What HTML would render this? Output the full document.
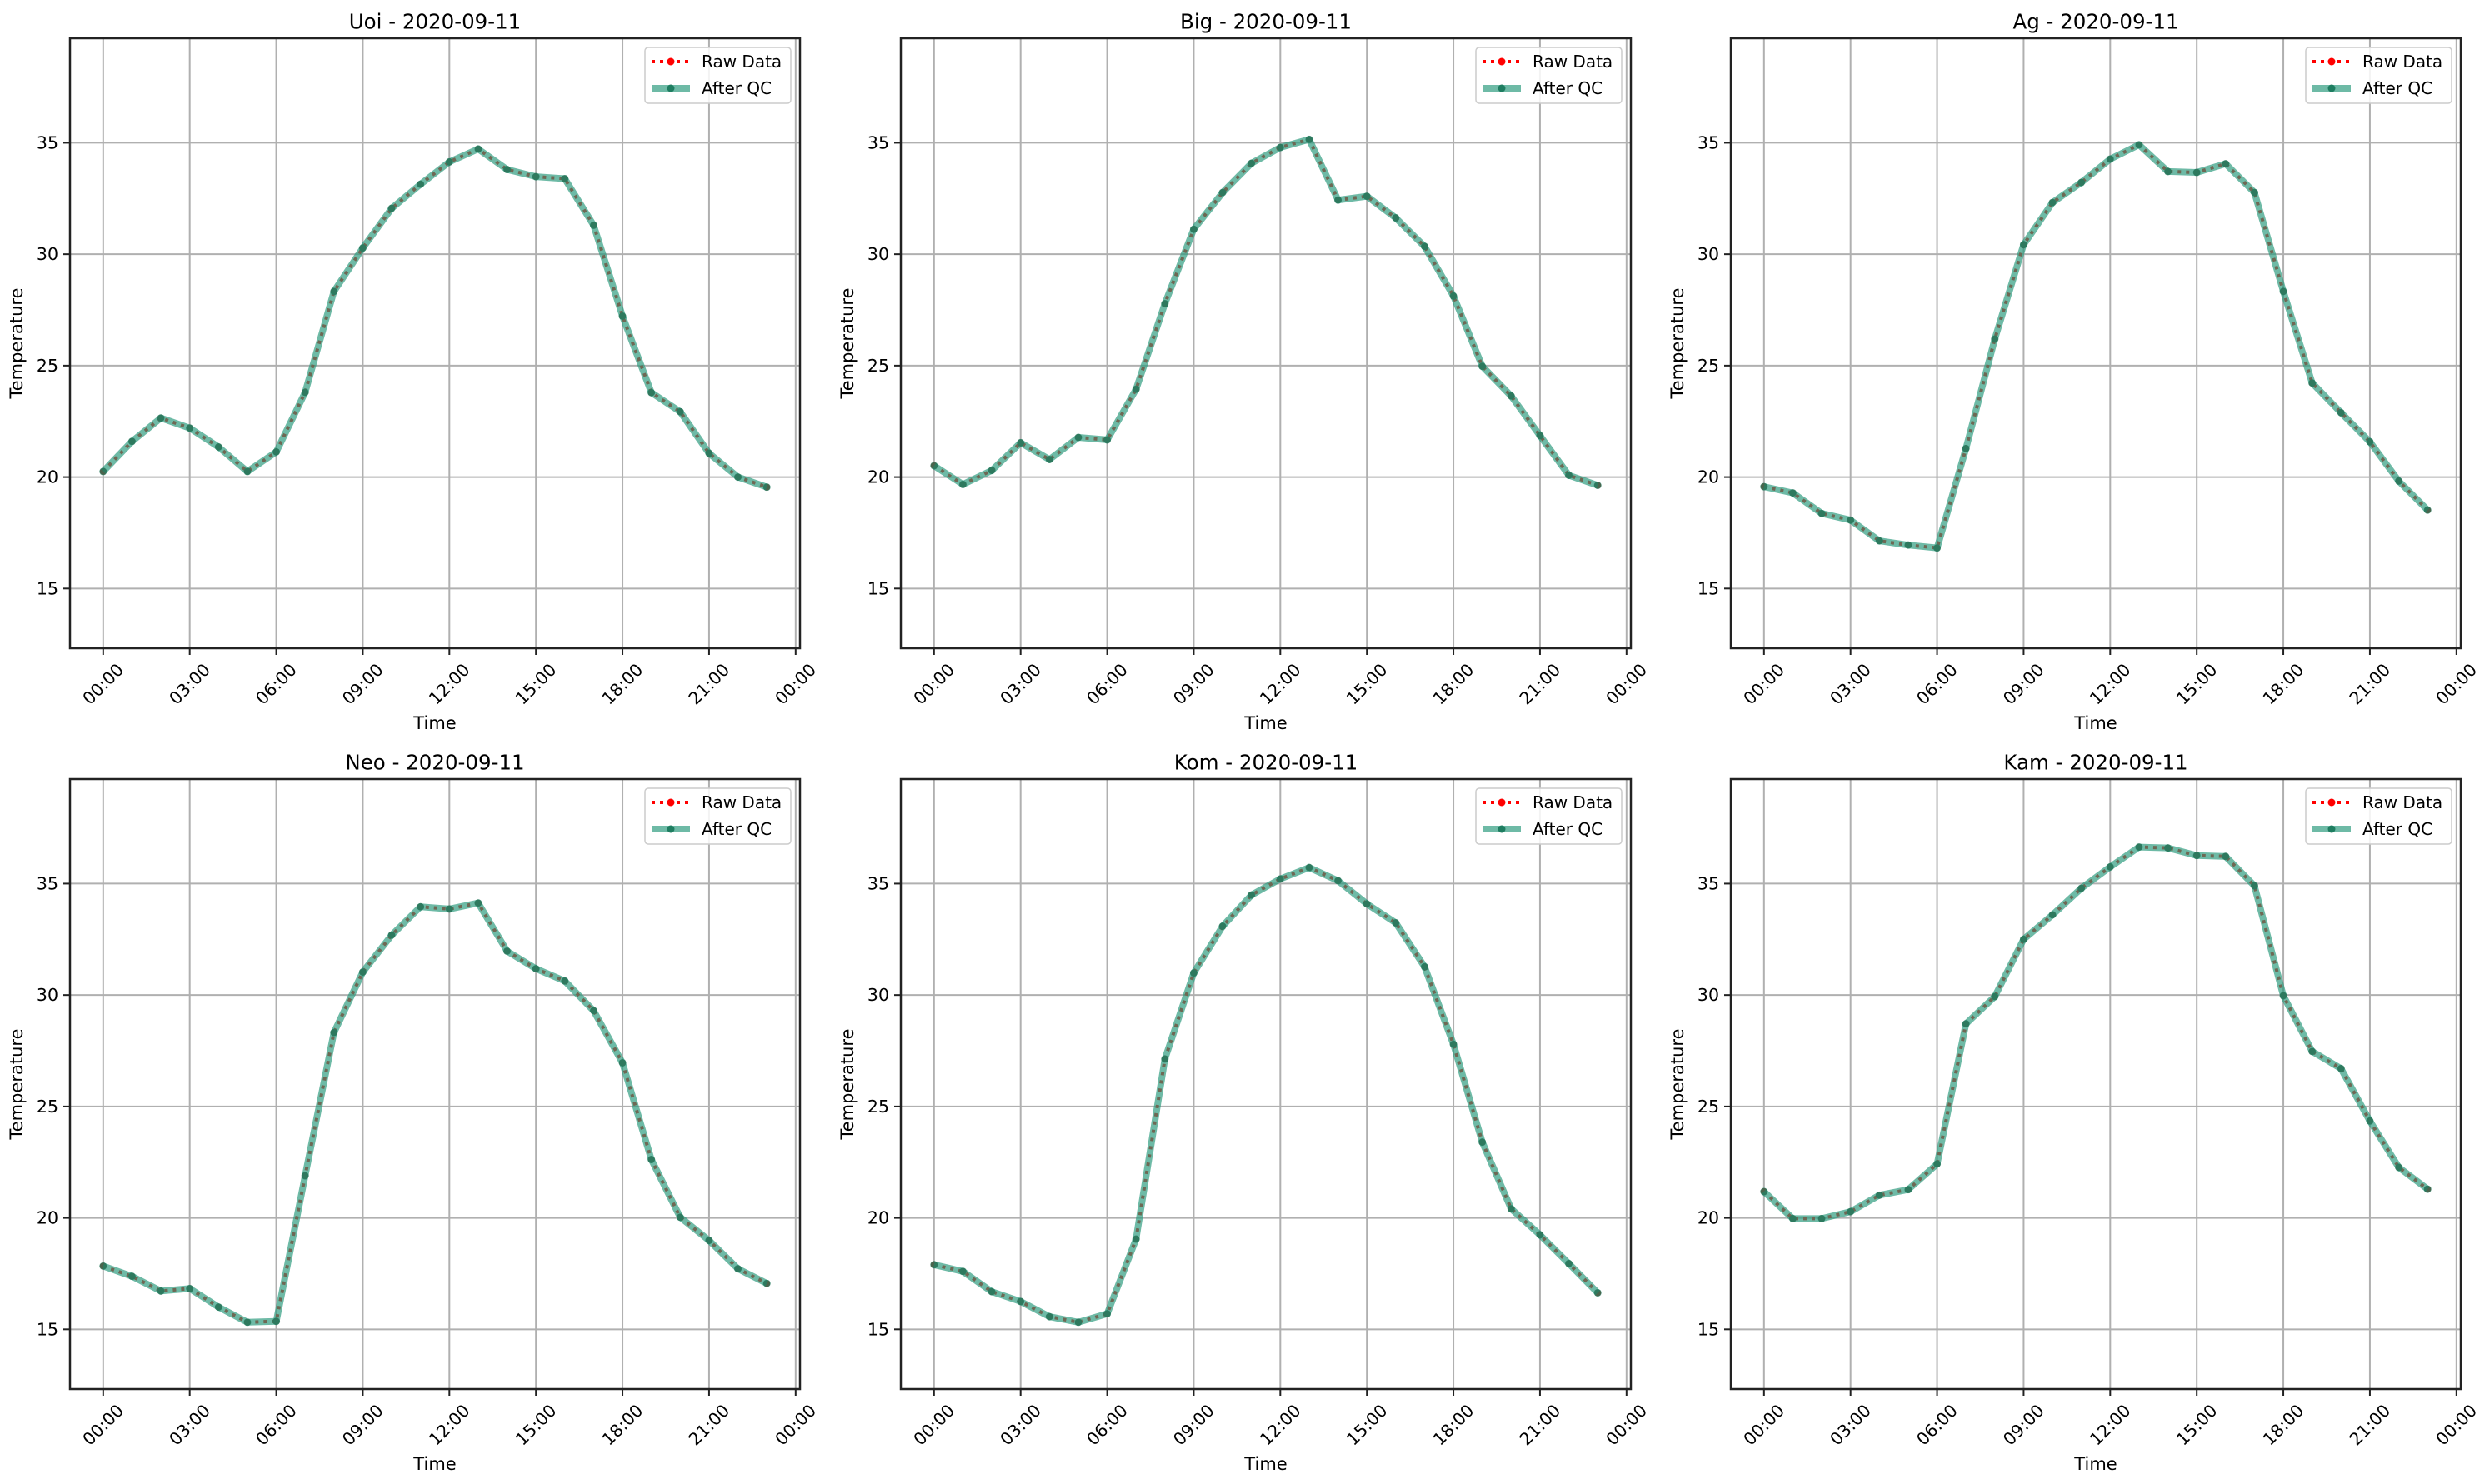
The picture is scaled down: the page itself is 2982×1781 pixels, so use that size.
<!DOCTYPE html>
<html><head><meta charset="utf-8"><style>
html,body{margin:0;padding:0;background:#fff;}
svg{display:block;font-family:"DejaVu Sans","Liberation Sans",sans-serif;}
</style></head><body>
<svg id="fig" width="2982" height="1781" viewBox="0 0 2982 1781" xmlns="http://www.w3.org/2000/svg"></svg>
<script>
const stations = ["Uoi","Big","Ag","Neo","Kom","Kam"];
const dateLabel = "2020-09-11";
const hours = [0,1,2,3,4,5,6,7,8,9,10,11,12,13,14,15,16,17,18,19,20,21,22,23];
const uoiTemps = [20.25,21.6,22.65,22.2,21.35,20.25,21.13,23.8,28.33,30.28,32.06,33.14,34.14,34.72,33.8,33.48,33.39,31.3,27.22,23.79,22.93,21.07,20.0,19.55];
const bigTemps = [20.51,19.67,20.3,21.54,20.79,21.78,21.67,23.94,27.78,31.12,32.77,34.08,34.79,35.15,32.43,32.6,31.63,30.35,28.12,24.97,23.64,21.86,20.08,19.63];
const agTemps = [19.57,19.29,18.37,18.07,17.14,16.95,16.82,21.28,26.19,30.43,32.32,33.22,34.27,34.91,33.71,33.67,34.06,32.77,28.33,24.22,22.89,21.58,19.82,18.52];
const neoTemps = [17.84,17.38,16.72,16.83,16.0,15.32,15.36,21.89,28.32,31.03,32.69,33.96,33.86,34.13,31.97,31.18,30.63,29.3,26.96,22.62,20.03,18.99,17.72,17.06];
const komTemps = [17.9,17.6,16.69,16.25,15.57,15.32,15.7,19.05,27.13,30.99,33.09,34.49,35.21,35.72,35.13,34.09,33.24,31.27,27.79,23.4,20.41,19.24,17.95,16.64];
const kamTemps = [21.18,19.97,19.97,20.28,21.02,21.27,22.42,28.71,29.93,32.5,33.6,34.79,35.75,36.64,36.6,36.26,36.22,34.9,29.97,27.47,26.7,24.35,22.27,21.29];
const xTickHours = [0,3,6,9,12,15,18,21,24];
const xTickLabels = ["00:00","03:00","06:00","09:00","12:00","15:00","18:00","21:00","00:00"];
const yTicks = [15,20,25,30,35];
const yMin = 12.32, yMax = 39.69, xMin = -1.15, xMax = 24.15;

const allTemps = [uoiTemps,bigTemps,agTemps,neoTemps,komTemps,kamTemps];
const NS = "http://www.w3.org/2000/svg";
const svg = document.getElementById('fig');
const lefts = [84,1081,2077], tops = [46,935], W = 876, H = 732;

function mk(tag, attrs, parent){
  const e = document.createElementNS(NS, tag);
  for (const k in attrs) e.setAttribute(k, attrs[k]);
  parent.appendChild(e);
  return e;
}

stations.forEach((st, i) => {
  const L = lefts[i%3], T = tops[Math.floor(i/3)];
  const xs = h => L + (h - xMin) / (xMax - xMin) * W;
  const ys = v => T + H - (v - yMin) / (yMax - yMin) * H;
  const g = mk('g', {}, svg);
  
  

  xTickHours.forEach(h => {
    const ln = mk('line', {x1:xs(h), x2:xs(h), y1:T, y2:T+H, stroke:'#b0b0b0','stroke-width':2}, g);
    
    
  });
  yTicks.forEach(v => {
    const ln = mk('line', {x1:L, x2:L+W, y1:ys(v), y2:ys(v), stroke:'#b0b0b0','stroke-width':2}, g);
    
    
  });

  const temps = allTemps[i];
  const pts = hours.map((h,k) => xs(h).toFixed(1) + ',' + ys(temps[k]).toFixed(1)).join(' ');
  const raw = mk('polyline', {points:pts, fill:'none', stroke:'#ff0000', 'stroke-width':4, 'stroke-dasharray':'4,6'}, g);
  
  
  hours.forEach((h,k) => {
    const c = mk('circle', {cx:xs(h), cy:ys(temps[k]), r:4, fill:'#ff0000'}, g);
    
    
  });
  const qc = mk('polyline', {points:pts, fill:'none', stroke:'#2a9a7c', 'stroke-width':8, 'stroke-opacity':0.68, 'stroke-linejoin':'round'}, g);
  
  
  hours.forEach((h,k) => {
    const c = mk('circle', {cx:xs(h), cy:ys(temps[k]), r:4.5, fill:'#1e7d60', 'fill-opacity':0.8}, g);
    
    
  });

  const fr = mk('rect', {x:L, y:T, width:W, height:H, fill:'none', stroke:'#222', 'stroke-width':2.5}, g);
  
  

  xTickHours.forEach((h,k) => {
    mk('line', {x1:xs(h), x2:xs(h), y1:T+H, y2:T+H+8, stroke:'#222','stroke-width':2}, g);
    const cx = xs(h), cy = T+H+43;
    const t = mk('text', {x:cx, y:cy, 'text-anchor':'middle', 'dominant-baseline':'central', 'font-size':20.5, fill:'#000', transform:'rotate(-45 '+cx+' '+cy+')'}, g);
    
    
    t.textContent = xTickLabels[k];
  });
  yTicks.forEach(v => {
    mk('line', {x1:L-8, x2:L, y1:ys(v), y2:ys(v), stroke:'#222','stroke-width':2}, g);
    const t = mk('text', {x:L-14, y:ys(v), 'text-anchor':'end', 'dominant-baseline':'central', 'font-size':20.5, fill:'#000'}, g);
    
    
    t.textContent = v;
  });

  const ti = mk('text', {x:L+W/2, y:T-20, 'text-anchor':'middle', 'dominant-baseline':'central', 'font-size':24.5, fill:'#000'}, g);
  
  
  ti.textContent = st + ' - ' + dateLabel;
  const xl = mk('text', {x:L+W/2, y:T+H+90, 'text-anchor':'middle', 'dominant-baseline':'central', 'font-size':21, fill:'#000'}, g);
  
  
  xl.textContent = 'Time';
  const ycx = L-64, ycy = T+H/2;
  const yl = mk('text', {x:ycx, y:ycy, 'text-anchor':'middle', 'dominant-baseline':'central', 'font-size':21, fill:'#000', transform:'rotate(-90 '+ycx+' '+ycy+')'}, g);
  
  
  yl.textContent = 'Temperature';

  const lg = mk('g', {}, g);
  
  
  const lx = L+W-186, ly = T+11;
  mk('rect', {x:lx, y:ly, width:175, height:67, rx:4, fill:'#fff', 'fill-opacity':0.85, stroke:'#cccccc', 'stroke-width':1.5}, lg);
  const r1 = ly+17, r2 = ly+49;
  mk('line', {x1:lx+8, x2:lx+54, y1:r1, y2:r1, stroke:'#ff0000', 'stroke-width':4, 'stroke-dasharray':'4,6'}, lg);
  mk('circle', {cx:lx+31, cy:r1, r:4.5, fill:'#ff0000'}, lg);
  const t1 = mk('text', {x:lx+68, y:r1, 'dominant-baseline':'central', 'font-size':20, fill:'#000'}, lg);
  
  
  t1.textContent = 'Raw Data';
  mk('line', {x1:lx+8, x2:lx+54, y1:r2, y2:r2, stroke:'#2a9a7c', 'stroke-width':8, 'stroke-opacity':0.68}, lg);
  mk('circle', {cx:lx+31, cy:r2, r:4.5, fill:'#1e7d60'}, lg);
  const t2 = mk('text', {x:lx+68, y:r2, 'dominant-baseline':'central', 'font-size':20, fill:'#000'}, lg);
  
  
  t2.textContent = 'After QC';
});
</script>
</body></html>
